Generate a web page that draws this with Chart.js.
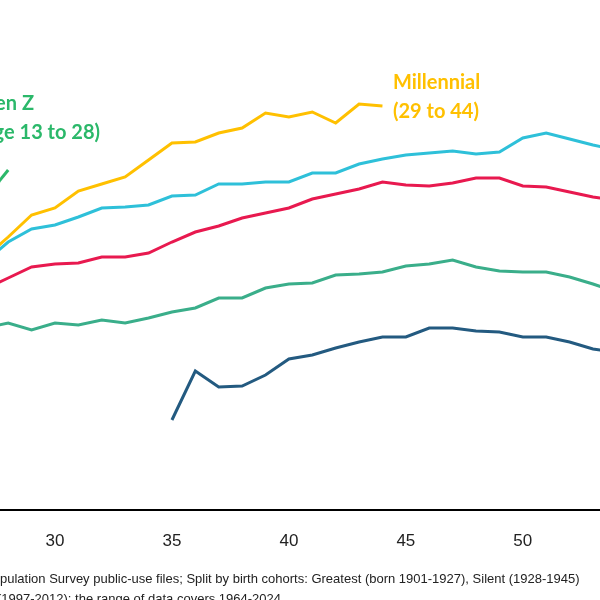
<!DOCTYPE html>
<html>
<head>
<meta charset="utf-8">
<script src="https://cdn.jsdelivr.net/npm/chart.js@4"></script>
<style>
  body { margin: 0; background: #fff; }
  #wrap { width: 600px; height: 600px; }
</style>
</head>
<body>
<div id="wrap"><canvas id="chart" width="600" height="600"></canvas></div>
<script>
const ages = [27, 28, 29, 30, 31, 32, 33, 34, 35, 36, 37, 38, 39, 40, 41, 42, 43, 44, 45, 46, 47, 48, 49, 50, 51, 52, 53, 54];
const xTicks = [30, 35, 40, 45, 50];

const genZ = [31.1, 34.0];
const millennial = [25.2, 27.3, 29.5, 30.2, 31.9, 32.6, 33.3, 35.0, 36.7, 36.8, 37.7, 38.2, 39.7, 39.3, 39.8, 38.7, 40.6, 40.4];
const genX = [24.8, 26.8, 28.1, 28.5, 29.3, 30.2, 30.3, 30.5, 31.4, 31.5, 32.6, 32.6, 32.8, 32.8, 33.7, 33.7, 34.6, 35.1, 35.5, 35.7, 35.9, 35.6, 35.8, 37.2, 37.7, 37.1, 36.5, 36.0];
const boomer = [22.1, 23.2, 24.3, 24.6, 24.7, 25.3, 25.3, 25.7, 26.8, 27.8, 28.4, 29.2, 29.7, 30.2, 31.1, 31.6, 32.1, 32.8, 32.5, 32.4, 32.7, 33.2, 33.2, 32.4, 32.3, 31.8, 31.3, 31.0];
const silent = [18.2, 18.7, 18.0, 18.7, 18.5, 19.0, 18.7, 19.2, 19.8, 20.2, 21.2, 21.2, 22.2, 22.6, 22.7, 23.5, 23.6, 23.8, 24.4, 24.6, 25.0, 24.3, 23.9, 23.8, 23.8, 23.3, 22.6, 21.8];
const greatest = [9.0, 13.9, 12.3, 12.4, 13.5, 15.1, 15.5, 16.2, 16.8, 17.3, 17.3, 18.2, 18.2, 17.9, 17.8, 17.3, 17.3, 16.8, 16.1, 15.8];
const greatestStart = 35;

function pts(vals, start) {
  const i0 = ages.indexOf(start);
  return vals.map((v, i) => ({ x: ages[i0 + i], y: v }));
}

function line(label, data, color) {
  return { label, data, borderColor: color, borderWidth: 3, pointRadius: 0, tension: 0, fill: false };
}

const labelsPlugin = {
  id: 'labels',
  afterDraw(chart) {
    const c = chart.ctx;
    c.save();
    c.font = 'bold 20px Lato, "Open Sans", sans-serif';
    c.fillStyle = '#FFC000';
    c.textAlign = 'left';
    c.fillText('Millennial', 393, 89);
    c.fillText('(29 to 44)', 393, 118);
    c.fillStyle = '#2BB86A';
    c.textAlign = 'right';
    c.fillText('Gen Z', 34, 110);
    c.fillText('(age 13 to 28)', 100, 139);
    c.font = '13px "Liberation Sans", Arial, sans-serif';
    c.fillStyle = '#222';
    c.textAlign = 'left';
    const pre = 'Source: Current Po';
    const off = c.measureText(pre).width;
    c.fillText(pre + 'pulation Survey public-use files; Split by birth cohorts: Greatest (born 1901-1927), Silent (1928-1945)', -off, 583);
    c.fillText('(1997-2012); the range of data covers 1964-2024', -3, 603);
    c.restore();
  }
};

new Chart(document.getElementById('chart'), {
  type: 'line',
  data: {
    datasets: [
      line('Greatest', pts(greatest, greatestStart), '#235A80'),
      line('Silent', pts(silent, 27), '#3AAE8A'),
      line('Boomer', pts(boomer, 27), '#E8194F'),
      line('Gen X', pts(genX, 27), '#2EC0D9'),
      line('Millennial', pts(millennial, 27), '#FFC000'),
      line('Gen Z', pts(genZ, 27), '#2BB86A')
    ]
  },
  options: {
    responsive: false,
    animation: false,
    layout: { padding: 0 },
    plugins: { legend: { display: false }, tooltip: { enabled: false } },
    scales: {
      x: {
        type: 'linear',
        min: 27.65,
        max: 53.3,
        grid: { display: false },
        border: { color: '#000', width: 2 },
        afterBuildTicks: (s) => { s.ticks = xTicks.map((v) => ({ value: v })); },
        afterFit: (s) => { s.height = 90; },
        ticks: { color: '#222', font: { size: 17, family: 'Liberation Sans' }, padding: 13, maxRotation: 0 }
      },
      y: { display: false, min: 0, max: 51 }
    }
  },
  plugins: [labelsPlugin]
});
</script>
</body>
</html>
